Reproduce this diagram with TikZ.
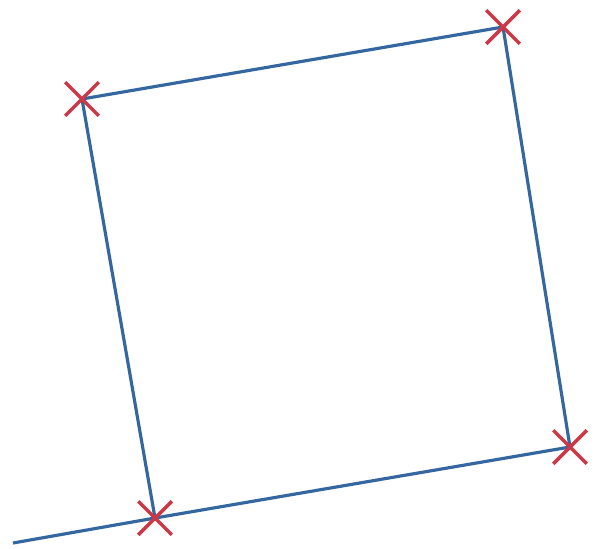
\documentclass[tikz,border=0pt]{standalone}
\usetikzlibrary{shapes.misc}
\definecolor{edgeblue}{RGB}{52,102,160}
\definecolor{markred}{RGB}{205,55,70}
\tikzset{
  side/.style={draw=edgeblue, line width=2.7pt},
  corner/.style={cross out, draw=markred, line width=3pt, minimum size=0.9cm, inner sep=0pt}
}
\begin{document}
\begin{tikzpicture}[x=0.03cm, y=-0.03cm]
\useasboundingbox (0,0) rectangle (601,548);
  \coordinate (tl) at (82,99);
  \coordinate (tr) at (503,27);
  \coordinate (br) at (570,447);
  \coordinate (bl) at (155,518);
  \coordinate (tail) at (13,543);
  \draw[side] (tl) -- (tr) -- (br) -- (bl) -- (tl);
  \draw[side] (bl) -- (tail);
  \node[corner] (mtl) at (tl) {};
  \node[corner] (mtr) at (tr) {};
  \node[corner] (mbr) at (br) {};
  \node[corner] (mbl) at (bl) {};
\end{tikzpicture}
\end{document}
